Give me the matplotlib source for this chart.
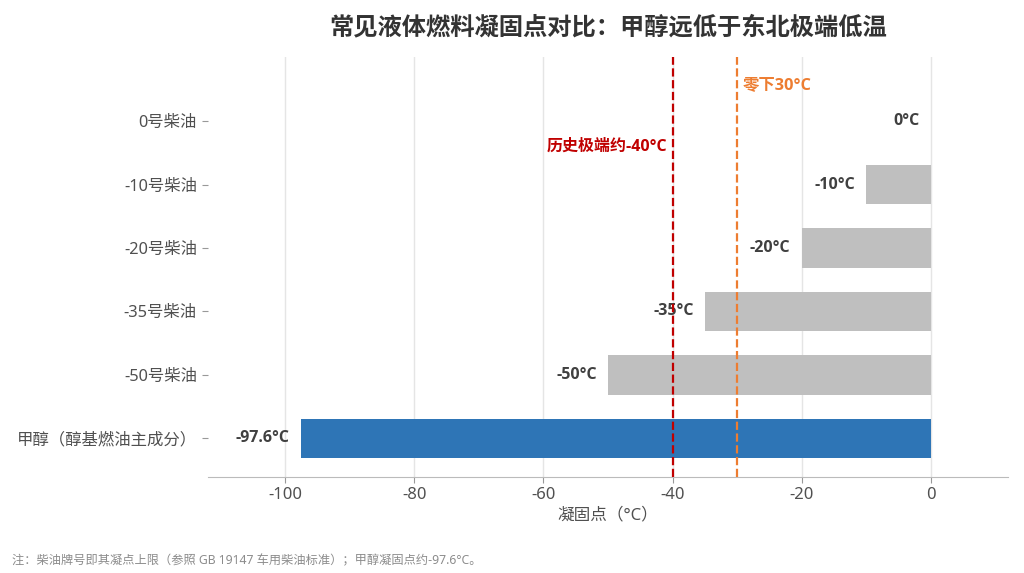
import matplotlib
matplotlib.use('Agg')
import matplotlib.pyplot as plt

plt.rcParams['font.family'] = ['Noto Sans', 'Noto Sans CJK SC', 'DejaVu Sans']
plt.rcParams['axes.unicode_minus'] = False
bold_family = ['Open Sans', 'Noto Sans CJK SC', 'DejaVu Sans']

# data
fuels = ['0号柴油', '-10号柴油', '-20号柴油', '-35号柴油', '-50号柴油', '甲醇（醇基燃油主成分）']
freeze_points = [0, -10, -20, -35, -50, -97.6]
value_labels = ['0°C', '-10°C', '-20°C', '-35°C', '-50°C', '-97.6°C']
bar_colors = ['#bfbfbf', '#bfbfbf', '#bfbfbf', '#bfbfbf', '#bfbfbf', '#2e75b6']
extreme_temp = -40
cold_temp = -30

fig = plt.figure(figsize=(10.24, 5.73), dpi=100)
ax = fig.add_axes([208 / 1024, 1 - 477 / 573, 800 / 1024, 420 / 573])

ypos = list(range(len(fuels)))
ax.barh(ypos, freeze_points, height=0.62, color=bar_colors, zorder=2)

# value labels at bar ends
for y, v, lab in zip(ypos, freeze_points, value_labels):
    ax.annotate(lab, xy=(v, y), xytext=(-8, 0), textcoords='offset points',
                ha='right', va='center', fontsize=11.5, fontweight='bold',
                color='#404040', family=bold_family)

# reference lines
ax.axvline(extreme_temp, color='#c00000', linestyle='--', linewidth=1.6, zorder=3)
ax.axvline(cold_temp, color='#ed7d31', linestyle='--', linewidth=1.6, zorder=3)
ax.text(extreme_temp - 0.8, 0.4, '历史极端约-40°C', color='#c00000',
        ha='right', va='center', fontsize=11.5, fontweight='bold', family=bold_family)
ax.text(cold_temp + 0.8, -0.57, '零下30°C', color='#ed7d31',
        ha='left', va='center', fontsize=11.8, fontweight='bold', family=bold_family)

ax.set_xlim(-112, 12)
ax.set_ylim(5.61, -1.01)
ax.set_yticks(ypos)
ax.set_yticklabels(fuels, fontsize=11.8, color='#505050')
ax.set_xticks([-100, -80, -60, -40, -20, 0])
ax.tick_params(axis='x', labelsize=12, labelcolor='#505050', color='#999999', length=4)
ax.tick_params(axis='y', color='#999999', length=4, pad=4)
ax.grid(axis='x', color='#e5e5e5', linewidth=1, zorder=0)
ax.set_axisbelow(True)

for s in ['top', 'right', 'left']:
    ax.spines[s].set_visible(False)
ax.spines['bottom'].set_color('#bbbbbb')

ax.set_xlabel('凝固点（°C）', fontsize=12, color='#505050', labelpad=3)
fig.suptitle('常见液体燃料凝固点对比：甲醇远低于东北极端低温', x=608 / 1024, y=1 - 28 / 573,
             va='center', fontsize=17.5, fontweight='bold', color='#333333',
             family=bold_family)

fig.text(12 / 1024, 1 - 561 / 573,
         '注：柴油牌号即其凝点上限（参照 GB 19147 车用柴油标准）；甲醇凝固点约-97.6°C。',
         fontsize=8.8, color='#8c8c8c', va='center', ha='left')

plt.savefig('out.png', dpi=100)
plt.close()
